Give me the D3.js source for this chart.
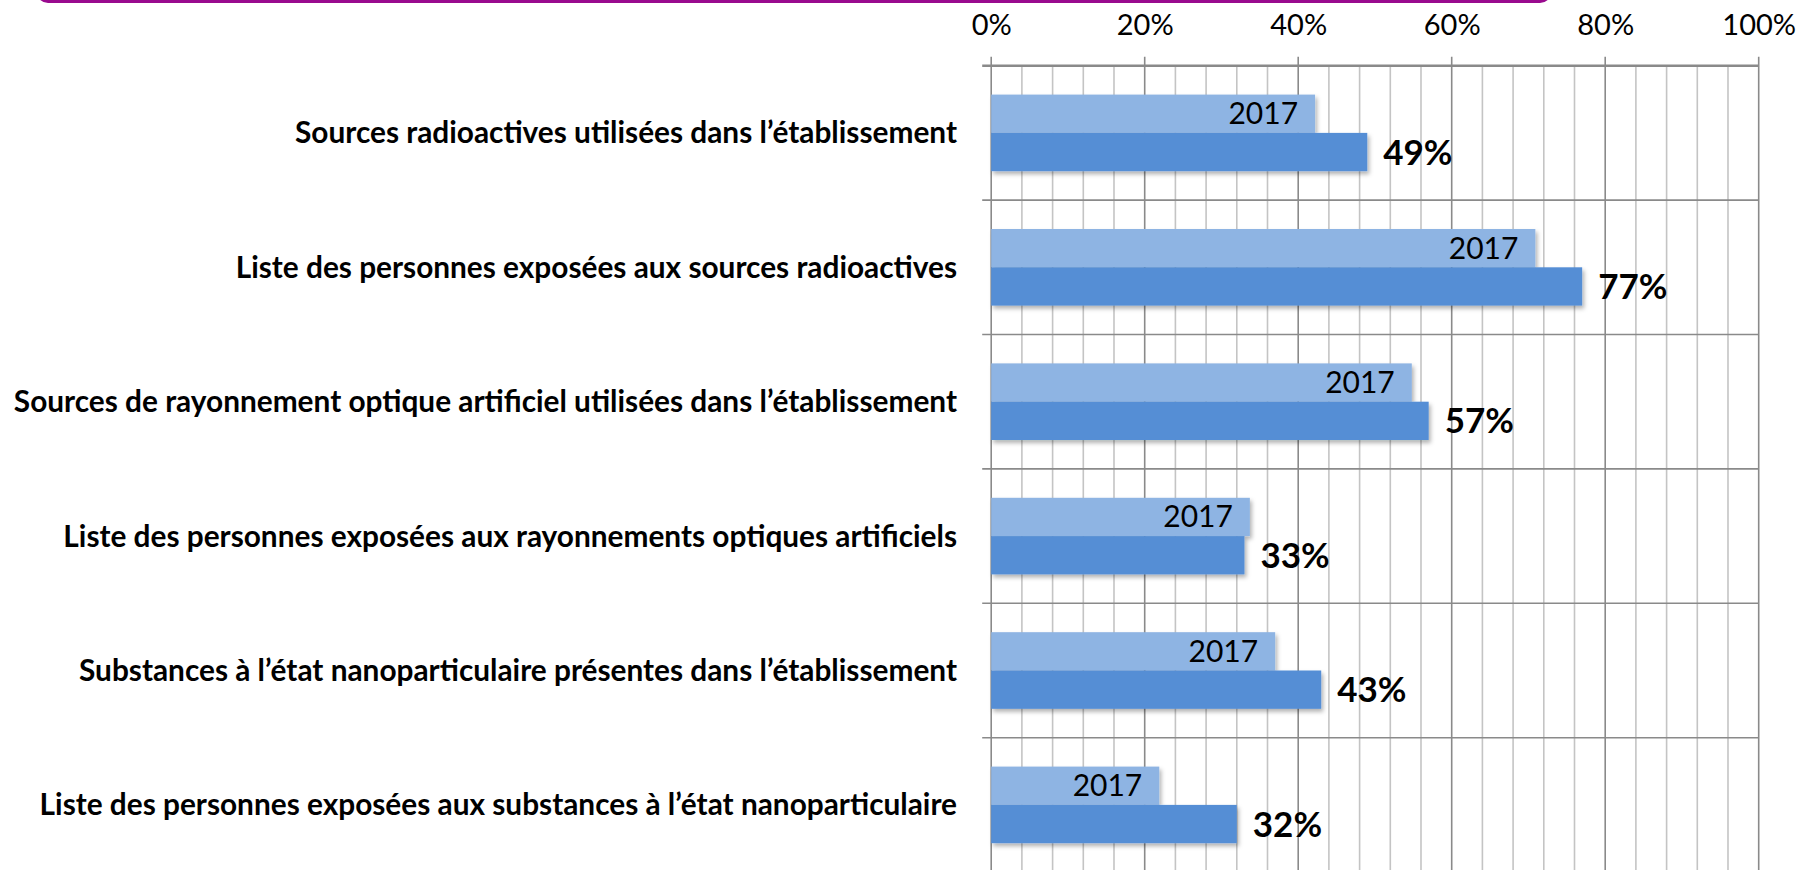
<!DOCTYPE html>
<html lang="fr">
<head>
<meta charset="utf-8">
<script src="https://cdn.jsdelivr.net/npm/d3@7"></script>
<style>
  html, body { margin: 0; padding: 0; background: #ffffff; }
  svg { display: block; }
</style>
</head>
<body>
<svg id="chart" width="1800" height="870"></svg>
<script>
// Catégories (de haut en bas)
const categories = [
  "Sources radioactives utilisées dans l’établissement",
  "Liste des personnes exposées aux sources radioactives",
  "Sources de rayonnement optique artificiel utilisées dans l’établissement",
  "Liste des personnes exposées aux rayonnements optiques artificiels",
  "Substances à l’état nanoparticulaire présentes dans l’établissement",
  "Liste des personnes exposées aux substances à l’état nanoparticulaire"
];

// Part des établissements (%) — rappel 2017 et résultat actuel
const values2017 = [42.2, 70.9, 54.8, 33.7, 37.0, 21.9];
const valuesCurrent = [49, 77, 57, 33, 43, 32];

const series = ["2017", "actuel"];
const tickValues = [0, 20, 40, 60, 80, 100];
const minorStep = 4;

const W = 1800, H = 870;
const plot = { left: 991.2, right: 1758.7, top: 65.7, bottom: 65.7 + 6 * 134.4 };

const svg = d3.select("#chart");
const labelFont = "Lato, 'Open Sans', sans-serif";

// Bandeau magenta en haut de page
svg.append("rect")
  .attr("x", 38).attr("y", -30)
  .attr("width", 1512).attr("height", 31.5)
  .attr("rx", 10)
  .attr("fill", "none")
  .attr("stroke", "#990A8E")
  .attr("stroke-width", 3);

// Ombre portée des barres
const defs = svg.append("defs");
const f = defs.append("filter").attr("id", "shadow")
  .attr("x", "-5%").attr("y", "-20%").attr("width", "110%").attr("height", "150%");
f.append("feDropShadow")
  .attr("dx", 2).attr("dy", 3).attr("stdDeviation", 2)
  .attr("flood-color", "#000").attr("flood-opacity", 0.3);

const x = d3.scaleLinear().domain([0, 100]).range([plot.left, plot.right]);
const y = d3.scaleBand().domain(categories)
  .range([plot.top, plot.bottom])
  .paddingInner(0.43).paddingOuter(0.215);
const ySub = d3.scaleBand().domain(series).range([0, y.bandwidth()]);

const grid = svg.append("g");

// Grille secondaire (tous les 4 %)
const minorTicks = d3.range(0, 100 + 0.001, minorStep).filter(v => v % 20 !== 0);
grid.selectAll("line.minor").data(minorTicks).join("line")
  .attr("class", "minor")
  .attr("x1", d => x(d)).attr("x2", d => x(d))
  .attr("y1", plot.top).attr("y2", H)
  .attr("stroke", "#C4C4C4").attr("stroke-width", 1.6);

// Grille principale (tous les 20 %) avec graduations au-dessus de l'axe
grid.selectAll("line.major").data(tickValues).join("line")
  .attr("class", "major")
  .attr("x1", d => x(d)).attr("x2", d => x(d))
  .attr("y1", plot.top - 9).attr("y2", H)
  .attr("stroke", "#8A8A8A").attr("stroke-width", 1.6);

// Séparateurs de catégories (avec graduation vers la gauche)
const seps = d3.range(categories.length + 1).map(i => plot.top + i * y.step());
grid.selectAll("line.sep").data(seps).join("line")
  .attr("class", "sep")
  .attr("x1", plot.left - 9).attr("x2", plot.right)
  .attr("y1", d => d).attr("y2", d => d)
  .attr("stroke", "#8A8A8A").attr("stroke-width", d => d === plot.top ? 2.4 : 1.6);

// Axe des valeurs en haut
const xAxis = d3.axisTop(x).tickValues(tickValues).tickFormat(d => d + "%").tickSize(0).tickPadding(0);
const gx = svg.append("g").attr("transform", `translate(0, 35)`).call(xAxis);
gx.select(".domain").remove();
gx.selectAll("text")
  .attr("dy", 0)
  .attr("font-family", labelFont)
  .attr("font-size", 29)
  .attr("fill", "#000");

// Barres
const rows = categories.map((c, i) => ({ cat: c, v2017: values2017[i], vCur: valuesCurrent[i] }));
const bars = svg.append("g").attr("filter", "url(#shadow)");
bars.selectAll("rect.b2017").data(rows).join("rect")
  .attr("class", "b2017")
  .attr("x", x(0))
  .attr("y", d => y(d.cat) + ySub("2017"))
  .attr("width", d => x(d.v2017) - x(0))
  .attr("height", ySub.bandwidth())
  .attr("fill", "#8EB4E3");
bars.selectAll("rect.bcur").data(rows).join("rect")
  .attr("class", "bcur")
  .attr("x", x(0))
  .attr("y", d => y(d.cat) + ySub("actuel"))
  .attr("width", d => x(d.vCur) - x(0))
  .attr("height", ySub.bandwidth())
  .attr("fill", "#558ED5");

// Étiquettes "2017" à l'intérieur des barres claires
svg.append("g").selectAll("text").data(rows).join("text")
  .attr("x", d => x(d.v2017) - 17)
  .attr("y", d => y(d.cat) + ySub("2017") + ySub.bandwidth() / 2)
  .attr("dy", "0.35em")
  .attr("text-anchor", "end")
  .attr("font-family", labelFont)
  .attr("font-size", 30)
  .attr("fill", "#000")
  .text("2017");

// Valeurs actuelles
svg.append("g").selectAll("text").data(rows).join("text")
  .attr("x", d => x(d.vCur) + 16)
  .attr("y", d => y(d.cat) + ySub("actuel") + ySub.bandwidth() / 2)
  .attr("dy", "0.36em")
  .attr("font-family", labelFont)
  .attr("font-weight", "bold")
  .attr("font-size", 35)
  .attr("fill", "#000")
  .text(d => d.vCur + "%");

// Libellés des catégories
svg.append("g").selectAll("text").data(categories).join("text")
  .attr("x", 957)
  .attr("y", d => y(d) + y.bandwidth() / 2)
  .attr("dy", "0.35em")
  .attr("text-anchor", "end")
  .attr("font-family", labelFont)
  .attr("font-weight", "bold")
  .attr("font-size", 29.8)
  .attr("fill", "#000")
  .text(d => d);
</script>
</body>
</html>
